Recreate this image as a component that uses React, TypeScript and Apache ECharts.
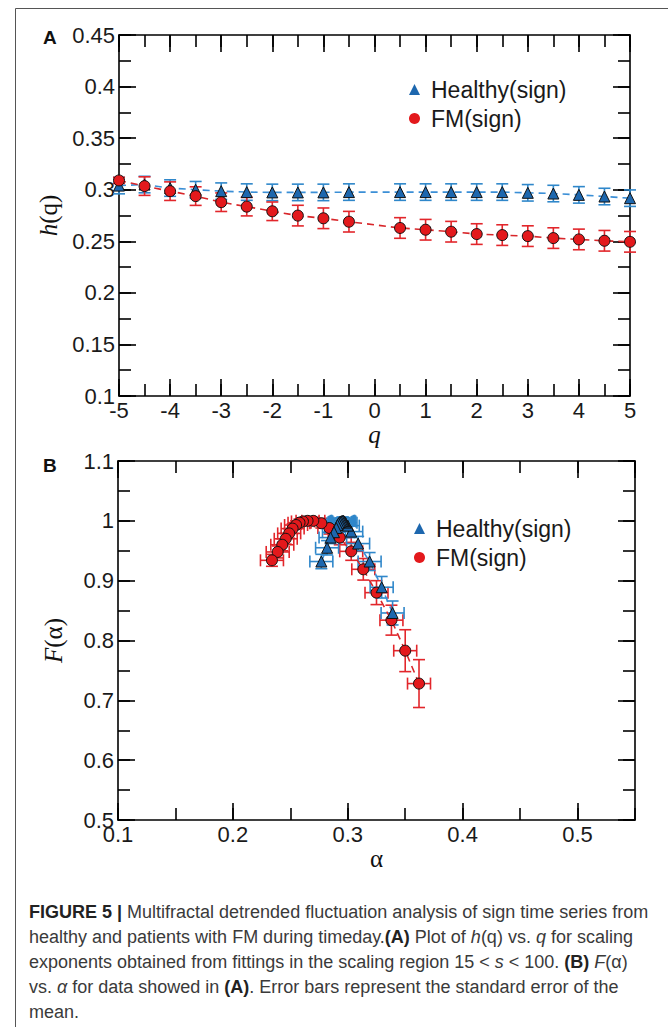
import React, { useEffect, useRef } from "react";
import * as echarts from "echarts";

// ---------- Panel A: h(q) vs q ----------
const qValues = [-5, -4.5, -4, -3.5, -3, -2.5, -2, -1.5, -1, -0.5, 0.5, 1, 1.5, 2, 2.5, 3, 3.5, 4, 4.5, 5];
const hHealthy = [0.304, 0.305, 0.3016, 0.3, 0.2986, 0.2977, 0.2974, 0.2974, 0.2974, 0.2977, 0.2977, 0.2977, 0.2977, 0.2977, 0.2977, 0.297, 0.2963, 0.295, 0.2934, 0.2918];
const hHealthyErr = [0.008, 0.008, 0.008, 0.008, 0.008, 0.008, 0.008, 0.008, 0.008, 0.008, 0.008, 0.008, 0.008, 0.008, 0.008, 0.008, 0.008, 0.008, 0.008, 0.008];
const hFM = [0.309, 0.3035, 0.2986, 0.2938, 0.2879, 0.2836, 0.2791, 0.2749, 0.2723, 0.269, 0.2629, 0.2612, 0.2593, 0.257, 0.256, 0.255, 0.2531, 0.2518, 0.2505, 0.2495];
const hFMErr = [0.003, 0.009, 0.009, 0.009, 0.009, 0.009, 0.009, 0.01, 0.01, 0.01, 0.01, 0.01, 0.01, 0.01, 0.01, 0.01, 0.01, 0.01, 0.01, 0.01];

// ---------- Panel B: F(alpha) vs alpha ----------
const alphaHealthy = [0.339, 0.3295, 0.319, 0.309, 0.303, 0.3, 0.298, 0.297, 0.296, 0.296, 0.295, 0.294, 0.293, 0.292, 0.291, 0.29, 0.288, 0.285, 0.282, 0.277];
const fHealthy = [0.846, 0.889, 0.932, 0.962, 0.982, 0.992, 0.997, 0.999, 1.0, 1.0, 1.0, 0.999, 0.998, 0.996, 0.993, 0.988, 0.981, 0.972, 0.955, 0.932];
const alphaHealthyErr = [0.01, 0.01, 0.01, 0.01, 0.01, 0.01, 0.01, 0.01, 0.01, 0.01, 0.01, 0.01, 0.01, 0.01, 0.01, 0.01, 0.01, 0.01, 0.01, 0.01];
const fHealthyErr = [0.02, 0.018, 0.015, 0.012, 0.01, 0.008, 0.006, 0.006, 0.006, 0.006, 0.006, 0.006, 0.006, 0.007, 0.008, 0.009, 0.01, 0.01, 0.012, 0.012];
const alphaFM = [0.362, 0.35, 0.338, 0.325, 0.3135, 0.303, 0.293, 0.284, 0.277, 0.27, 0.265, 0.261, 0.258, 0.255, 0.252, 0.249, 0.246, 0.243, 0.239, 0.234];
const fFM = [0.728, 0.783, 0.834, 0.88, 0.919, 0.949, 0.972, 0.988, 0.996, 1.0, 1.0, 0.999, 0.997, 0.993, 0.987, 0.979, 0.97, 0.96, 0.948, 0.934];
const alphaFMErr = [0.01, 0.01, 0.01, 0.01, 0.01, 0.01, 0.01, 0.01, 0.01, 0.01, 0.01, 0.01, 0.01, 0.01, 0.01, 0.01, 0.01, 0.01, 0.01, 0.01];
const fFMErr = [0.04, 0.035, 0.025, 0.02, 0.018, 0.015, 0.012, 0.01, 0.008, 0.006, 0.006, 0.006, 0.006, 0.007, 0.008, 0.008, 0.009, 0.01, 0.01, 0.01];

const seriesNames = ["Healthy(sign)", "FM(sign)"];

const captionLines = [
  "{b|FIGURE 5 |} Multifractal detrended fluctuation analysis of sign time series from",
  "healthy and patients with FM during timeday.{b|(A)} Plot of {i|h}(q) vs. {i|q} for scaling",
  "exponents obtained from fittings in the scaling region 15 < {i|s} < 100. {b|(B)} {i|F}(α)",
  "vs. {i|α} for data showed in {b|(A)}. Error bars represent the standard error of the",
  "mean.",
];

const FONT = "'Liberation Sans', Arial, Helvetica, sans-serif";
const SERIF = "'Liberation Serif', 'DejaVu Serif', serif";
const BLUE_MARK = "#1d67ae";
const BLUE_LINE = "#3b8fd6";
const BLUE_ERR = "#2f87ca";
const RED_MARK = "#e3191c";
const RED_LINE = "#d8262a";
const RED_ERR = "#e2262b";

const fmt = (v: number) => String(parseFloat(Number(v).toFixed(3)));

function xAxes(grid: number, min: number, max: number, major: number, minor: number, name: string, showMax: boolean) {
  const base = {
    type: "value", gridIndex: grid, min, max, splitLine: { show: false },
  };
  const line = { show: true, onZero: false, lineStyle: { color: "#000", width: 1.6 } };
  const noLine = { show: false, onZero: false };
  return [
    {
      ...base, position: "bottom", interval: major, axisLine: line,
      axisTick: { show: true, inside: true, length: 17, lineStyle: { color: "#000", width: 1.6 } },
      axisLabel: { show: true, margin: 3, fontSize: 22, fontFamily: FONT, color: "#1a1a1a", formatter: fmt, showMaxLabel: showMax },
      name, nameLocation: "middle", nameGap: 22,
      nameTextStyle: { fontFamily: SERIF, fontSize: 25, color: "#111", fontStyle: name === "q" ? "italic" : "normal" },
    },
    {
      ...base, position: "top", interval: major, axisLine: line,
      axisTick: { show: true, inside: true, length: 17, lineStyle: { color: "#000", width: 1.6 } },
      axisLabel: { show: false },
    },
    {
      ...base, position: "bottom", interval: minor, axisLine: noLine,
      axisTick: { show: true, inside: true, length: 12, lineStyle: { color: "#000", width: 1.6 } },
      axisLabel: { show: false },
    },
    {
      ...base, position: "top", interval: minor, axisLine: noLine,
      axisTick: { show: true, inside: true, length: 12, lineStyle: { color: "#000", width: 1.6 } },
      axisLabel: { show: false },
    },
  ];
}

function yAxes(grid: number, min: number, max: number, major: number, minor: number, name: string, rich: any) {
  const base = {
    type: "value", gridIndex: grid, min, max, splitLine: { show: false },
  };
  const line = { show: true, onZero: false, lineStyle: { color: "#000", width: 1.6 } };
  const noLine = { show: false, onZero: false };
  return [
    {
      ...base, position: "left", interval: major, axisLine: line,
      axisTick: { show: true, inside: true, length: 17, lineStyle: { color: "#000", width: 1.6 } },
      axisLabel: { show: true, margin: 4, fontSize: 22, fontFamily: FONT, color: "#1a1a1a", formatter: fmt },
      name, nameLocation: "middle", nameGap: 52, nameRotate: 90,
      nameTextStyle: { fontFamily: SERIF, fontSize: 25, color: "#111", rich },
    },
    {
      ...base, position: "right", interval: major, axisLine: line,
      axisTick: { show: true, inside: true, length: 17, lineStyle: { color: "#000", width: 1.6 } },
      axisLabel: { show: false },
    },
    {
      ...base, position: "left", interval: minor, axisLine: noLine,
      axisTick: { show: true, inside: true, length: 12, lineStyle: { color: "#000", width: 1.6 } },
      axisLabel: { show: false },
    },
    {
      ...base, position: "right", interval: minor, axisLine: noLine,
      axisTick: { show: true, inside: true, length: 12, lineStyle: { color: "#000", width: 1.6 } },
      axisLabel: { show: false },
    },
  ];
}

function errRender(color: string) {
  return (params: any, api: any) => {
    const x = api.value(0);
    const y = api.value(1);
    const ey = api.value(2);
    const ex = api.value(3);
    const st = { stroke: color, lineWidth: 1.6 };
    const cap = 6;
    const children: any[] = [];
    if (ey > 0) {
      const a = api.coord([x, y + ey]);
      const b = api.coord([x, y - ey]);
      children.push({ type: "line", shape: { x1: a[0], y1: a[1], x2: b[0], y2: b[1] }, style: st });
      children.push({ type: "line", shape: { x1: a[0] - cap, y1: a[1], x2: a[0] + cap, y2: a[1] }, style: st });
      children.push({ type: "line", shape: { x1: b[0] - cap, y1: b[1], x2: b[0] + cap, y2: b[1] }, style: st });
    }
    if (ex > 0) {
      const a = api.coord([x - ex, y]);
      const b = api.coord([x + ex, y]);
      children.push({ type: "line", shape: { x1: a[0], y1: a[1], x2: b[0], y2: b[1] }, style: st });
      children.push({ type: "line", shape: { x1: a[0], y1: a[1] - cap, x2: a[0], y2: a[1] + cap }, style: st });
      children.push({ type: "line", shape: { x1: b[0], y1: b[1] - cap, x2: b[0], y2: b[1] + cap }, style: st });
    }
    return { type: "group", children };
  };
}

export default function App() {
  const ref = useRef<HTMLDivElement>(null);
  useEffect(() => {
    if (!ref.current) return;
    const chart = echarts.init(ref.current, null, { renderer: "svg" });

    const errA_H = qValues.map((q, i) => [q, hHealthy[i], hHealthyErr[i], 0]);
    const errA_F = qValues.map((q, i) => [q, hFM[i], hFMErr[i], 0]);
    const errB_H = alphaHealthy.map((a, i) => [a, fHealthy[i], fHealthyErr[i], alphaHealthyErr[i]]);
    const errB_F = alphaFM.map((a, i) => [a, fFM[i], fFMErr[i], alphaFMErr[i]]);

    const lineSeries = (name: string, data: number[][], xi: number, yi: number, healthy: boolean) => ({
      type: "line", name, xAxisIndex: xi, yAxisIndex: yi, data,
      symbol: healthy ? "triangle" : "circle",
      symbolSize: 11,
      showSymbol: true,
      itemStyle: { color: healthy ? BLUE_MARK : RED_MARK, borderColor: "#111", borderWidth: 1 },
      lineStyle: { color: healthy ? BLUE_LINE : RED_LINE, width: 1.6, type: [7, 5] },
      z: 4,
    });
    const errSeries = (name: string, data: number[][], xi: number, yi: number, color: string) => ({
      type: "custom", name, xAxisIndex: xi, yAxisIndex: yi, data,
      encode: { x: 0, y: 1 }, renderItem: errRender(color), z: 3,
    });

    const legendCommon = {
      orient: "vertical", itemWidth: 11, itemHeight: 11, itemGap: 6, selectedMode: false,
      itemStyle: { borderWidth: 0 },
      textStyle: { fontSize: 23, fontFamily: FONT, color: "#1a1a1a", padding: [0, 0, 0, 6] },
      data: [
        { name: seriesNames[0], icon: "triangle" },
        { name: seriesNames[1], icon: "circle" },
      ],
    };

    const capRich = {
      b: { fontWeight: "bold", fontSize: 18, fontFamily: FONT, fill: "#222" },
      i: { fontStyle: "italic", fontSize: 18, fontFamily: FONT, fill: "#3a3a3a" },
    };

    chart.setOption({
      animation: false,
      backgroundColor: "#fff",
      grid: [
        { left: 119, top: 35, width: 511, height: 361, outerBoundsMode: "none" },
        { left: 118, top: 461, width: 517, height: 359, outerBoundsMode: "none" },
      ],
      xAxis: [
        ...xAxes(0, -5, 5, 1, 0.5, "q", true),
        ...xAxes(1, 0.1, 0.55, 0.1, 0.05, "α", false),
      ],
      yAxis: [
        ...yAxes(0, 0.1, 0.45, 0.05, 0.025, "{i|h}(q)", { i: { fontStyle: "italic", fontFamily: SERIF, fontSize: 25 } }),
        ...yAxes(1, 0.5, 1.1, 0.1, 0.05, "{i|F}(α)", { i: { fontStyle: "italic", fontFamily: SERIF, fontSize: 25 } }),
      ],
      legend: [
        { ...legendCommon, left: 404, top: 73 },
        { ...legendCommon, left: 409, top: 512 },
      ],
      series: [
        errSeries("errAH", errA_H, 0, 0, BLUE_ERR),
        errSeries("errAF", errA_F, 0, 0, RED_ERR),
        lineSeries(seriesNames[0], qValues.map((q, i) => [q, hHealthy[i]]), 0, 0, true),
        lineSeries(seriesNames[1], qValues.map((q, i) => [q, hFM[i]]), 0, 0, false),
        errSeries("errBF", errB_F, 4, 4, RED_ERR),
        errSeries("errBH", errB_H, 4, 4, BLUE_ERR),
        lineSeries(seriesNames[1], alphaFM.map((a, i) => [a, fFM[i]]), 4, 4, false),
        lineSeries(seriesNames[0], alphaHealthy.map((a, i) => [a, fHealthy[i]]), 4, 4, true),
      ],
      graphic: [
        { type: "line", shape: { x1: 15.5, y1: 8.5, x2: 668, y2: 8.5 }, style: { stroke: "#555", lineWidth: 1 }, silent: true },
        { type: "line", shape: { x1: 15.5, y1: 8.5, x2: 15.5, y2: 1027 }, style: { stroke: "#555", lineWidth: 1 }, silent: true },
        { type: "text", x: 43, y: 37, style: { text: "A", fontSize: 19, fontWeight: "bold", fontFamily: FONT, fill: "#111", verticalAlign: "middle" } },
        { type: "text", x: 43, y: 465, style: { text: "B", fontSize: 19, fontWeight: "bold", fontFamily: FONT, fill: "#111", verticalAlign: "middle" } },
        ...captionLines.map((t, i) => ({
          type: "text", x: 29, y: 912 + i * 25,
          style: { text: t, fontSize: 18, fontFamily: FONT, fill: "#3a3a3a", verticalAlign: "middle", rich: capRich },
        })),
      ],
    });
    return () => chart.dispose();
  }, []);
  return (
    <div
      ref={ref}
      style={{ position: "fixed", left: 0, top: 0, width: 668, height: 1027, background: "#fff" }}
    />
  );
}
